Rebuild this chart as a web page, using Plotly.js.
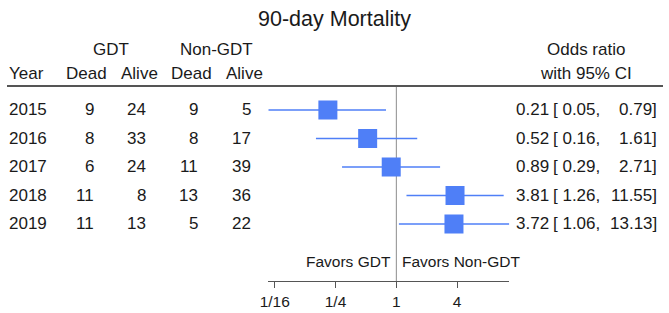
<!DOCTYPE html>
<html>
<head>
<meta charset="utf-8">
<script src="https://cdn.plot.ly/plotly-3.0.1.min.js"></script>
<style>
  html, body { margin: 0; padding: 0; background: #ffffff; }
  #chart { width: 669px; height: 313px; }
</style>
</head>
<body>
<div id="chart"></div>
<script>
// ---- data ----
const years      = ['2015', '2016', '2017', '2018', '2019'];
const gdtDead    = [9, 8, 6, 11, 11];
const gdtAlive   = [24, 33, 24, 8, 13];
const nonDead    = [9, 8, 11, 13, 5];
const nonAlive   = [5, 17, 39, 36, 22];
const oddsRatio  = [0.21, 0.52, 0.89, 3.81, 3.72];
const ciLow      = [0.054, 0.16, 0.29, 1.26, 1.06];
const ciHigh     = [0.79, 1.61, 2.71, 11.55, 13.13];
const refValue   = 1;
const tickVals   = [1/16, 1/4, 1, 4];
const tickLabels = ['1/16', '1/4', '1', '4'];

// ---- layout helpers (pixel -> paper) ----
const W = 669, H = 313;
const px = v => v / W;
const py = v => 1 - v / H;
const FONT = 'Liberation Sans, Arial, Helvetica, sans-serif';
const TXT = '#1a1a1a';
const BLUE = '#4f7ff7';
const rows = years.map((_, i) => i + 1);
const Y_TOP = 0.16, Y_BOTTOM = 7;

// CI lines with gaps between rows
const lx = [], ly = [];
rows.forEach((r, i) => { lx.push(ciLow[i], ciHigh[i], null); ly.push(r, r, null); });

const traces = [
  { type: 'scatter', mode: 'lines', x: [refValue, refValue], y: [Y_BOTTOM, Y_TOP],
    line: { color: '#8c8c8c', width: 1 }, hoverinfo: 'skip', showlegend: false, cliponaxis: false },
  { type: 'scatter', mode: 'lines', x: lx, y: ly, connectgaps: false,
    line: { color: BLUE, width: 1.5 }, hoverinfo: 'skip', showlegend: false },
  { type: 'scatter', mode: 'markers', x: oddsRatio, y: rows,
    marker: { symbol: 'square', size: 19, color: BLUE, line: { width: 0 } },
    showlegend: false }
];

const ann = [];
function txt(text, x, y, xanchor, size, yref) {
  ann.push({ text: text, x: x, y: y, xref: 'paper', yref: yref || 'paper',
    xanchor: xanchor, yanchor: 'middle', showarrow: false,
    borderpad: 0, borderwidth: 0,
    font: { family: FONT, size: size, color: TXT } });
}
// headers
txt('GDT', px(111), py(50), 'center', 17);
txt('Non-GDT', px(216), py(50), 'center', 17);
txt('Year', px(9), py(73), 'left', 17);
txt('Dead', px(86.5), py(73), 'center', 17);
txt('Alive', px(139), py(73), 'center', 17);
txt('Dead', px(191.7), py(73), 'center', 17);
txt('Alive', px(244), py(73), 'center', 17);
txt('Odds ratio', px(586), py(50), 'center', 17);
txt('with 95% CI', px(586), py(73), 'center', 17);
// rows
rows.forEach((r, i) => {
  txt(years[i], px(9), r, 'left', 17, 'y');
  txt(String(gdtDead[i]), px(93.5), r, 'right', 17, 'y');
  txt(String(gdtAlive[i]), px(146), r, 'right', 17, 'y');
  txt(String(nonDead[i]), px(198), r, 'right', 17, 'y');
  txt(String(nonAlive[i]), px(250.5), r, 'right', 17, 'y');
  txt(oddsRatio[i].toFixed(2), px(549), r, 'right', 17, 'y');
  txt('[ ' + ciLow[i].toFixed(2) + ',', px(553), r, 'left', 17, 'y');
  txt(ciHigh[i].toFixed(2) + ']', px(657), r, 'right', 17, 'y');
});
// favors
txt('Favors GDT', px(391), py(261), 'right', 15.5);
txt('Favors Non-GDT', px(402), py(261), 'left', 15.5);

const xMin = Math.min.apply(null, ciLow), xMax = Math.max.apply(null, ciHigh);

const layout = {
  width: W, height: H,
  margin: { l: 0, r: 0, t: 0, b: 0, pad: 0 },
  paper_bgcolor: '#ffffff', plot_bgcolor: '#ffffff',
  showlegend: false,
  title: { text: '90-day Mortality', x: 0.5, xanchor: 'center', y: py(18), yanchor: 'middle',
    font: { family: FONT, size: 21.5, color: TXT } },
  xaxis: {
    type: 'log', range: [Math.log10(xMin), Math.log10(xMax)],
    domain: [px(268.3), px(509.3)],
    tickvals: tickVals, ticktext: tickLabels,
    showgrid: false, zeroline: false, showline: true, linecolor: '#555555', linewidth: 1,
    ticks: 'outside', ticklen: 6, tickwidth: 1, tickcolor: '#555555',
    tickfont: { family: FONT, size: 15.5, color: TXT },
    fixedrange: true
  },
  yaxis: {
    range: [Y_BOTTOM, Y_TOP], domain: [py(281), py(86)], visible: false, fixedrange: true
  },
  shapes: [
    { type: 'line', xref: 'paper', yref: 'paper', x0: px(7), x1: px(663), y0: py(86), y1: py(86),
      line: { color: '#555555', width: 2 } }
  ],
  annotations: ann
};

Plotly.newPlot('chart', traces, layout, { displayModeBar: false, staticPlot: true });
</script>
</body>
</html>
